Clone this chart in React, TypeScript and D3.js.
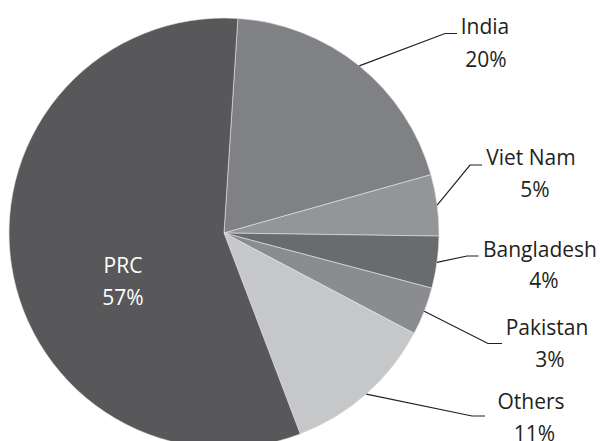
import React from "react";
import * as d3 from "d3";

const categories = ["India", "Viet Nam", "Bangladesh", "Pakistan", "Others", "PRC"];
const shares = [19.6, 4.6, 3.9, 3.6, 11.5, 56.8];
const percentLabels = ["20%", "5%", "4%", "3%", "11%", "57%"];
const colors = ["#808184", "#939598", "#6a6b6e", "#8b8c8f", "#c6c7c9", "#58585a"];

// label layout (annotation placement): elbow point, line end, name/pct centers & baselines
const labelLayout = [
  { ex: 445, ey: 33.5, lx: 457, nx: 485, ny: 34, px: 486, py: 67 },
  { ex: 470, ey: 165, lx: 482, nx: 531, ny: 165, px: 535, py: 197 },
  { ex: 467, ey: 256, lx: 478.5, nx: 540, ny: 256.5, px: 544, py: 287.5 },
  { ex: 488, ey: 343.5, lx: 502, nx: 547, ny: 335, px: 550, py: 366.5 },
  { ex: 472, ey: 416, lx: 485, nx: 531, ny: 408.5, px: 534.5, py: 441 },
];

const W = 602;
const H = 441;
const CX = 224;
const CY = 233;
const R = 215;
const START = (3.7 * Math.PI) / 180;

export default function App() {
  const data = categories.map((c, i) => ({ name: c, value: shares[i], pct: percentLabels[i], color: colors[i] }));
  const pie = d3
    .pie<any>()
    .sort(null)
    .value((d: any) => d.value)
    .startAngle(START)
    .endAngle(START + 2 * Math.PI);
  const arcs = pie(data);
  const arc = d3.arc<any>().innerRadius(0).outerRadius(R);
  const font = "'Open Sans', 'Noto Sans', sans-serif";

  return (
    <svg
      width={W}
      height={H}
      style={{ position: "absolute", left: 0, top: 0, background: "#fff", overflow: "hidden" }}
    >
      <g transform={`translate(${CX},${CY})`}>
        {arcs.map((a, i) => (
          <path key={i} d={arc(a) as string} fill={a.data.color} stroke="#e6e6e6" strokeWidth={0.6} />
        ))}
      </g>
      {arcs.slice(0, 5).map((a, i) => {
        const mid = (a.startAngle + a.endAngle) / 2;
        const sx = CX + R * Math.sin(mid);
        const sy = CY - R * Math.cos(mid);
        const L = labelLayout[i];
        return (
          <g key={i}>
            <polyline
              points={`${sx},${sy} ${L.ex},${L.ey} ${L.lx},${L.ey}`}
              fill="none"
              stroke="#231f20"
              strokeWidth={1.2}
            />
            <text x={L.nx} y={L.ny} textAnchor="middle" fontFamily={font} fontSize={21} fill="#231f20">
              {a.data.name}
            </text>
            <text x={L.px} y={L.py} textAnchor="middle" fontFamily={font} fontSize={21} fill="#231f20">
              {a.data.pct}
            </text>
          </g>
        );
      })}
      <text x={123} y={272.5} textAnchor="middle" fontFamily={font} fontSize={21} fill="#ffffff">
        {arcs[5].data.name}
      </text>
      <text x={123} y={305} textAnchor="middle" fontFamily={font} fontSize={21} fill="#ffffff">
        {arcs[5].data.pct}
      </text>
    </svg>
  );
}
